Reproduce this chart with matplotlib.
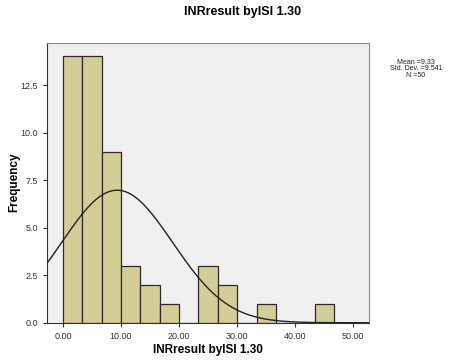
import numpy as np
import matplotlib
matplotlib.use('Agg')
import matplotlib.pyplot as plt

plt.rcParams['font.family'] = 'Liberation Sans'

# histogram data
bin_width = 10.0 / 3
bin_edges = np.arange(0, 15) * bin_width
counts = [14, 14, 9, 3, 2, 1, 0, 3, 2, 0, 1, 0, 0, 1]
mean = 9.33
std = 9.541
n = 50
x_ticks = [0, 10, 20, 30, 40, 50]
y_ticks = [0.0, 2.5, 5.0, 7.5, 10.0, 12.5]

fig = plt.figure(figsize=(4.58, 3.61), dpi=100)
ax = fig.add_axes([0.1026, 0.106, 0.703, 0.776])
ax.set_facecolor('#F0F0F0')

ax.bar(bin_edges[:-1], counts, width=bin_width, align='edge',
       color='#D3CE97', edgecolor='#2b2b2b', linewidth=0.9, zorder=2)

# normal curve scaled to the histogram
xs = np.linspace(-2.75, 52.7, 400)
pdf = n * bin_width * np.exp(-0.5 * ((xs - mean) / std) ** 2) / (std * np.sqrt(2 * np.pi))
ax.plot(xs, pdf, color='#222222', linewidth=1.0, zorder=3)

ax.set_xlim(-2.75, 52.7)
ax.set_ylim(0, 14.73)
ax.set_xticks(x_ticks)
ax.set_xticklabels(['%.2f' % v for v in x_ticks])
ax.set_yticks(y_ticks)
ax.set_yticklabels(['%.1f' % v for v in y_ticks])
ax.tick_params(labelsize=6.5, colors='#333333', length=3, width=0.8)

for s in ['top', 'right']:
    ax.spines[s].set_color('#8a8a8a')
for s in ['left', 'bottom']:
    ax.spines[s].set_color('#333333')

fig.text(0.454, 0.030, 'INRresult byISI 1.30', ha='center', va='center',
         fontsize=8.5, fontweight='bold')
fig.text(0.031, 0.496, 'Frequency', ha='center', va='center', rotation=90,
         fontsize=8.5, fontweight='bold')
fig.text(0.529, 0.967, 'INRresult byISI 1.30', ha='center', va='center',
         fontsize=9, fontweight='bold')

fig.text(0.908, 0.809, 'Mean =9.33\nStd. Dev. =9.541\nN =50', ha='center', va='center',
         fontsize=5, linespacing=0.9, color='#222222')

fig.savefig('out.png', dpi=100)
